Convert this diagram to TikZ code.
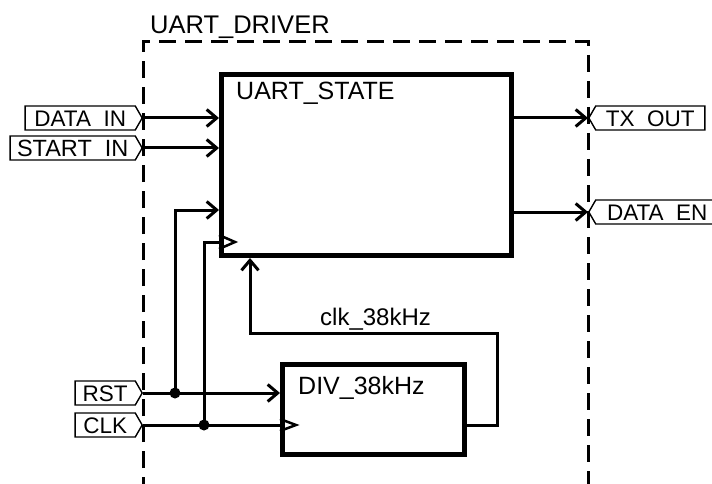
\documentclass[tikz,border=0pt]{standalone}
\usepackage{fontspec}
\setmainfont{Liberation Sans}
\usetikzlibrary{arrows.meta,shapes.symbols}
\newcommand\pingap{\hspace{0.556em}}
\begin{document}
\begin{tikzpicture}[x=1pt,y=-1pt,
  pinbase/.style={signal, signal pointer angle=120, draw, line width=1.4pt,
    inner sep=0pt, font=\fontsize{22.5}{22.5}\selectfont, text height=17pt, text depth=0pt,
    minimum height=24pt},
  pinin/.style={pinbase, signal to=east, anchor=east},
  pinout/.style={pinbase, signal to=west, anchor=west},
  blk/.style={draw, line width=5pt, rectangle, inner sep=0pt},
  lbl/.style={font=\fontsize{25}{25}\selectfont, inner sep=0pt, anchor=base west},
  sig/.style={line width=3pt},
  arr/.style={sig, -{Straight Barb[length=10pt,width=17pt]}},
  frame/.style={line width=3pt, dash pattern=on 17pt off 9pt},
  dot/.style={circle, fill, inner sep=0pt, minimum size=11pt},
  clktri/.style={line width=2.5pt}
]
\useasboundingbox (0,0) rectangle (712,484);

% dashed driver frame
\draw[frame] (143,494) -- (143,42) -- (588,42) -- (588,494);
\node[lbl, font=\fontsize{25.5}{25.5}\selectfont] (drv) at (150,34) {UART\_DRIVER};

% blocks
\node[blk, minimum width=290pt, minimum height=181pt] (state) at (366.5,165) {};
\node[lbl] (statel) at (236,100) {UART\_STATE};
\node[blk, minimum width=182pt, minimum height=90pt] (div) at (373.5,409.5) {};
\node[lbl] (divl) at (298,394) {DIV\_38kHz};

% pins
\node[pinin, minimum width=117pt] (din) at (143,118) {DATA\pingap IN};
\node[pinin, minimum width=132pt, font=\fontsize{23.5}{23.5}\selectfont] (sin) at (143,148) {START\pingap IN};
\node[pinin, minimum width=67pt] (rst) at (143,393) {RST};
\node[pinin, minimum width=67pt] (clk) at (143,425) {CLK};
\node[pinout, minimum width=116pt] (txo) at (588,118) {TX\pingap OUT};
\node[pinout, minimum width=130pt] (den) at (588,212) {DATA\pingap EN};

% inputs into UART_STATE
\draw[arr] (din.east) -- (din.east -| state.west);
\draw[arr] (sin.east) -- (sin.east -| state.west);

% junctions
\node[dot] (jr) at (175,393) {};
\node[dot] (jc) at (204,425) {};
\coordinate (rin) at (220,210);
\coordinate (cin) at (220,242);

\draw[arr] (jr.center) |- (rin -| state.west);
\draw[sig] (jc.center) |- (cin -| state.west);
\draw[clktri] (state.west |- cin) ++(0,-7) -- ++(16,7) -- ++(-16,7);

% RST / CLK into DIV
\draw[arr] (rst.east) -- (rst.east -| div.west);
\draw[sig] (clk.east) -- (clk.east -| div.west);
\draw[clktri] (div.west |- clk.east) ++(0,-6) -- ++(16,6) -- ++(-16,6);

% feedback clock
\coordinate (fbr) at (497,333);
\coordinate (fbl) at (250,333);
\draw[arr] (clk.east -| div.east) -| (fbr) -- (fbl) -- (fbl |- state.south);
\node[lbl, font=\fontsize{24}{24}\selectfont] (fbt) at (320,325) {clk\_38kHz};

% outputs
\draw[arr] (state.east |- txo.west) -- (txo.west);
\draw[arr] (state.east |- den.west) -- (den.west);
\end{tikzpicture}
\end{document}
